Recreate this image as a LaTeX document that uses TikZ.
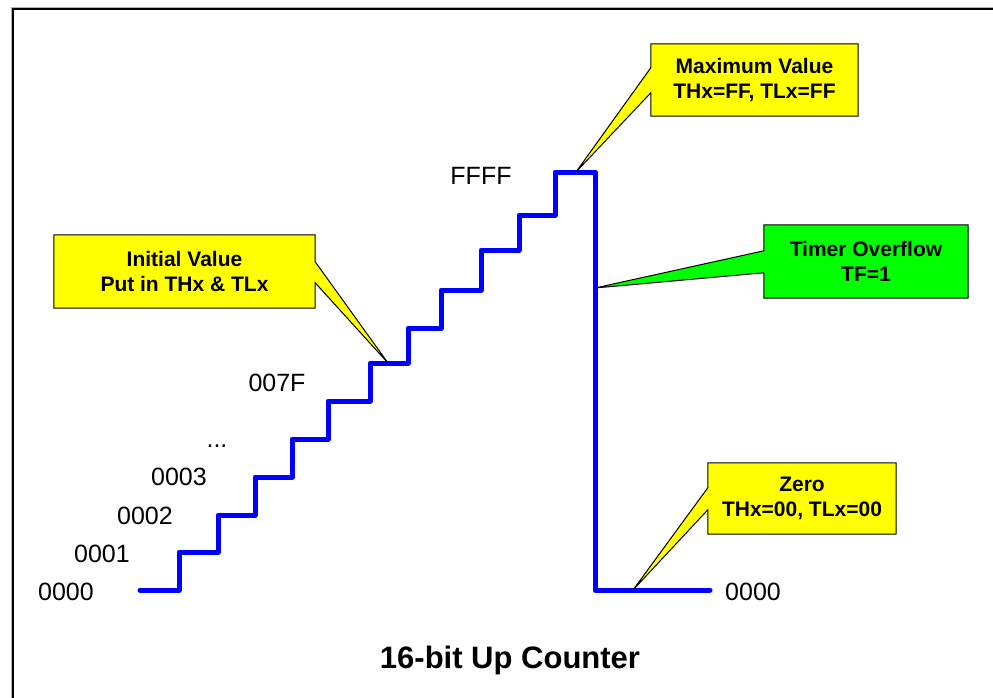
\documentclass[tikz,border=0pt]{standalone}
\usepackage{fontspec}
\setmainfont{Liberation Sans}
\usetikzlibrary{calc,backgrounds}
\definecolor{stairblue}{RGB}{0,0,255}
\definecolor{noteyellow}{RGB}{255,255,0}
\definecolor{notegreen}{RGB}{0,255,0}
\begin{document}
\begin{tikzpicture}[x=1pt,y=-1pt,
  value/.style={font=\fontsize{25}{30}\selectfont, inner sep=0pt},
  note/.style={font=\bfseries\fontsize{21}{25}\selectfont, align=center, inner sep=0pt},
  callout/.style={draw=black, line width=1pt, line join=miter},
  stair/.style={draw=stairblue, line width=5pt, line join=round, line cap=round}]
\useasboundingbox (0,0) rectangle (993,698);

% outer frame (open to the right and bottom)
\draw[gray!60, line width=1.2pt] (11.5,698) -- (11.5,7.5) -- (993,7.5);
\draw[black, line width=1.3pt] (13,698) -- (13,9) -- (993,9);

% points on the counter curve where the notes point
\coordinate (init) at (388,363);
\coordinate (max)  at (576,172);
\coordinate (ovf)  at (595,288);
\coordinate (zero) at (633,590);

% value labels
\node[value] (v0)   at (66,592)  {0000};
\node[value] (v1)   at (102,554) {0001};
\node[value] (v2)   at (145,516) {0002};
\node[value] (v3)   at (179,477) {0003};
\node[value] (vdots) at (217,446) {...};
\node[value] (v7f)  at (277,383) {007F};
\node[value] (vff)  at (481,176) {FFFF};
\node[value] (vz)   at (753,592) {0000};

% notes
\node[note, minimum width=261pt, minimum height=73pt] (iv) at (184.5,271.5)
  {Initial Value\\Put in THx \& TLx};
\node[note, minimum width=207pt, minimum height=72pt] (mv) at (754.5,80)
  {Maximum Value\\THx=FF, TLx=FF};
\node[note, minimum width=204pt, minimum height=73pt] (ov) at (866,261.5)
  {Timer Overflow\\TF=1};
\node[note, minimum width=188pt, minimum height=71pt] (zv) at (802,498.5)
  {Zero\\THx=00, TLx=00};

% title
\node[font=\bfseries\fontsize{31}{36}\selectfont, inner sep=0pt] (title) at (510,660)
  {16-bit Up Counter};

\begin{scope}[on background layer]
  % counter staircase
  \draw[stair] (140,590) -| (179,552) -| (218,515) -| (255,477) -| (292,439)
    -| (328,401) -| (370,363) -| (408,328) -| (441,290) -| (481,250)
    -| (519,215) -| (555,172) -| (595,590) -- (710,590);

  % note shapes with pointers
  \filldraw[callout, fill=noteyellow] (iv.north west) -- (iv.north east)
    -- ($(iv.north east)+(0,27)$) -- (init) -- ($(iv.north east)+(0,48)$)
    -- (iv.south east) -- (iv.south west) -- cycle;
  \filldraw[callout, fill=noteyellow] (mv.north west) -- (mv.north east)
    -- (mv.south east) -- (mv.south west)
    -- ($(mv.north west)+(0,49)$) -- (max) -- ($(mv.north west)+(0,24)$) -- cycle;
  \filldraw[callout, fill=notegreen] (ov.north west) -- (ov.north east)
    -- (ov.south east) -- (ov.south west)
    -- ($(ov.north west)+(0,48)$) -- (ovf) -- ($(ov.north west)+(0,26)$) -- cycle;
  \filldraw[callout, fill=noteyellow] (zv.north west) -- (zv.north east)
    -- (zv.south east) -- (zv.south west)
    -- ($(zv.north west)+(0,47)$) -- (zero) -- ($(zv.north west)+(0,25)$) -- cycle;
\end{scope}
\end{tikzpicture}
\end{document}
